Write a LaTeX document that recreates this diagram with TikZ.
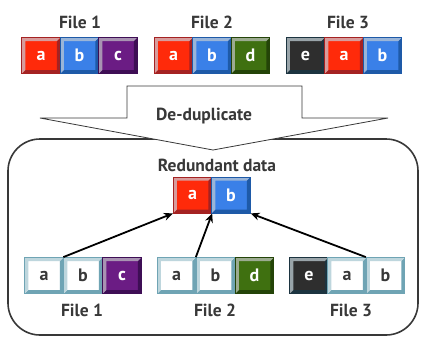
\documentclass[tikz,border=0pt]{standalone}
\usepackage{fontspec}
\setmainfont{PT Sans}
\usetikzlibrary{arrows.meta}
\definecolor{txt}{HTML}{383838}
\definecolor{redF}{HTML}{FF2A0A}\definecolor{redE}{HTML}{A52222}
\definecolor{bluF}{HTML}{3A80E8}\definecolor{bluE}{HTML}{1E5AA8}
\definecolor{purF}{HTML}{6B1C84}\definecolor{purE}{HTML}{3E0E55}
\definecolor{grnF}{HTML}{3F7010}\definecolor{grnE}{HTML}{244408}
\definecolor{drkF}{HTML}{2E2E2E}\definecolor{drkE}{HTML}{1C3440}
\definecolor{whtF}{HTML}{FFFFFF}\definecolor{whtE}{HTML}{6FA4B4}
\tikzset{
  keycap/.style 2 args={draw=#2, line width=0.8pt, fill=#1,
    minimum width=38.5pt, minimum height=36pt, inner sep=0pt,
    font=\fontsize{18}{18}\selectfont\bfseries, text=white,
    path picture={
      \path[fill=#2] (path picture bounding box.south west) -- (path picture bounding box.south east)
        -- (path picture bounding box.north east) -- ([shift={(-3.5pt,-3.5pt)}]path picture bounding box.north east)
        -- ([shift={(-3.5pt,3.5pt)}]path picture bounding box.south east)
        -- ([shift={(3.5pt,3.5pt)}]path picture bounding box.south west) -- cycle;
      \path[fill=#2!45!white] (path picture bounding box.south west) -- (path picture bounding box.north west)
        -- (path picture bounding box.north east) -- ([shift={(-3.5pt,-3.5pt)}]path picture bounding box.north east)
        -- ([shift={(3.5pt,-3.5pt)}]path picture bounding box.north west)
        -- ([shift={(3.5pt,3.5pt)}]path picture bounding box.south west) -- cycle;
    }},
  rcap/.style={keycap={redF}{redE}},
  bcap/.style={keycap={bluF}{bluE}},
  pcap/.style={keycap={purF}{purE}},
  gcap/.style={keycap={grnF}{grnE}},
  ecap/.style={keycap={drkF}{drkE}},
  wcap/.style={keycap={whtF}{whtE}, text=txt},
  lbl/.style={text=txt, font=\fontsize{17.5}{18}\selectfont\bfseries},
  link/.style={-{Stealth[length=9pt,width=8pt]}, line width=1.8pt, black},
}
\begin{document}
\begin{tikzpicture}[x=1pt,y=-1pt]
\useasboundingbox (0,0) rectangle (422,338);

% upper row: the three original files
\node[lbl] (t1) at (80,22) {File 1};
\node[lbl] (t2) at (212,22) {File 2};
\node[lbl] (t3) at (348,22) {File 3};
\node[rcap] (ta1) at (41,55.5) {a};
\node[bcap] (tb1) at (79.5,55.5) {b};
\node[pcap] (tc1) at (118,55.5) {c};
\node[rcap] (ta2) at (173.5,55.5) {a};
\node[bcap] (tb2) at (212,55.5) {b};
\node[gcap] (td2) at (250.5,55.5) {d};
\node[ecap] (te3) at (305.5,55.5) {e};
\node[rcap] (ta3) at (344,55.5) {a};
\node[bcap] (tb3) at (382.5,55.5) {b};

% rounded frame for the de-duplicated store
\draw[txt, line width=1.6pt, rounded corners=32pt] (8,139) rectangle (418,335);

% block arrow
\draw[txt, line width=0.8pt, fill=white]
  (127,86) -- (302,86) -- (302,118) -- (388,118) -- (213,150) -- (40,118) -- (127,118) -- cycle;
\node[lbl] (dd) at (204,116) {De-duplicate};

% redundant data kept once
\node[lbl] (rd) at (217,165) {Redundant data};
\node[rcap] (ra) at (192.5,195) {a};
\node[bcap] (rb) at (231,195) {b};

% lower row: files referring to the stored blocks
\node[wcap] (ba1) at (44,275.5) {a};
\node[wcap] (bb1) at (83,275.5) {b};
\node[pcap] (bc1) at (122,275.5) {c};
\node[wcap] (ba2) at (176.5,275.5) {a};
\node[wcap] (bb2) at (215.5,275.5) {b};
\node[gcap] (bd2) at (254.5,275.5) {d};
\node[ecap] (be3) at (309,275.5) {e};
\node[wcap] (ba3) at (347,275.5) {a};
\node[wcap] (bb3) at (385.5,275.5) {b};
\node[lbl] (b1) at (82,310) {File 1};
\node[lbl] (b2) at (215,310) {File 2};
\node[lbl] (b3) at (351,310) {File 3};

% references
\draw[link] (bb1.north west) -- (ra.south west);
\draw[link] (bb2.north west) -- (ra.south east);
\draw[link] (bb3.north west) -- (rb.south east);
\end{tikzpicture}
\end{document}
